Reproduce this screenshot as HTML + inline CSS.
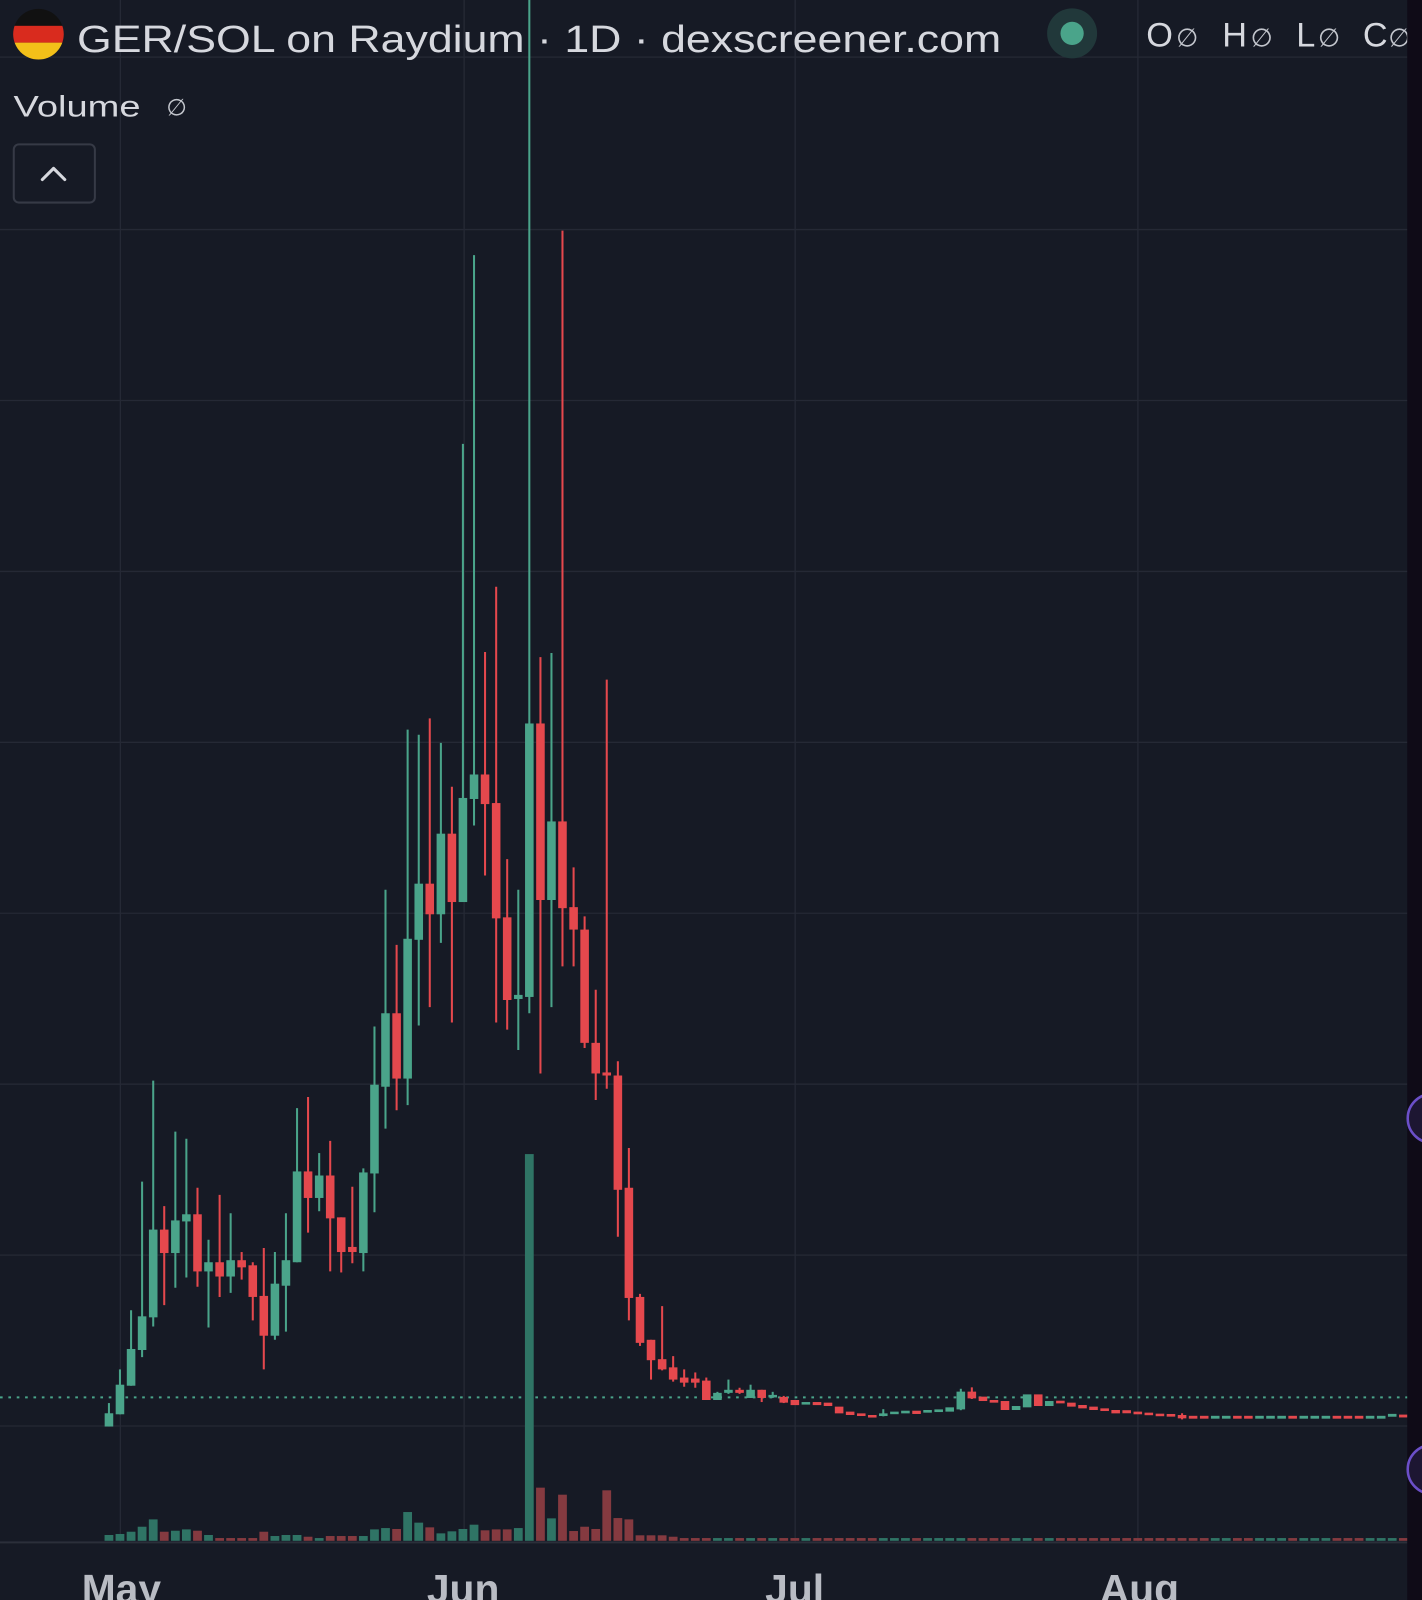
<!DOCTYPE html>
<html><head><meta charset="utf-8"><style>
html,body{margin:0;padding:0;background:#161a25;}
svg{display:block;}
.g line{stroke:#4aa48a;stroke-width:2}
.g rect{fill:#4aa48a}
.r line{stroke:#e5484d;stroke-width:2}
.r rect{fill:#e5484d}
.vg{fill:#2f7465}
.vr{fill:#853a40}
text{font-family:"Liberation Sans","DejaVu Sans",sans-serif;}
</style></head><body>
<svg width="1422" height="1600" viewBox="0 0 1394 1568" preserveAspectRatio="none" xmlns="http://www.w3.org/2000/svg">
<rect x="0" y="0" width="1394" height="1568" fill="#161a25"/>
<!-- grid -->
<g stroke="#252935" stroke-width="1.3">
<line x1="0" y1="56" x2="1380" y2="56"/>
<line x1="0" y1="225" x2="1380" y2="225"/>
<line x1="0" y1="392.5" x2="1380" y2="392.5"/>
<line x1="0" y1="560" x2="1380" y2="560"/>
<line x1="0" y1="727.5" x2="1380" y2="727.5"/>
<line x1="0" y1="895" x2="1380" y2="895"/>
<line x1="0" y1="1062.5" x2="1380" y2="1062.5"/>
<line x1="0" y1="1230" x2="1380" y2="1230"/>
<line x1="0" y1="1397.5" x2="1380" y2="1397.5"/>
<line x1="118" y1="0" x2="118" y2="1511"/>
<line x1="455" y1="0" x2="455" y2="1511"/>
<line x1="779.5" y1="0" x2="779.5" y2="1511"/>
<line x1="1115.5" y1="0" x2="1115.5" y2="1511"/>
</g>
<line x1="0" y1="1511.5" x2="1380" y2="1511.5" stroke="#2b2f3a" stroke-width="2"/>
<!-- dotted price line -->
<line x1="0" y1="1369.4" x2="1380" y2="1369.4" stroke="#4aa48a" stroke-width="2" stroke-dasharray="2.6 5.6"/>

<!-- volume -->
<rect class="vg" x="102.5" y="1504.3" width="8.6" height="5.7"/>
<rect class="vg" x="113.3" y="1503.3" width="8.6" height="6.7"/>
<rect class="vg" x="124.2" y="1501.1" width="8.6" height="8.9"/>
<rect class="vg" x="135" y="1496.2" width="8.6" height="13.8"/>
<rect class="vg" x="145.9" y="1489" width="8.6" height="21"/>
<rect class="vr" x="156.7" y="1501.1" width="8.6" height="8.9"/>
<rect class="vg" x="167.6" y="1500.1" width="8.6" height="9.9"/>
<rect class="vg" x="178.4" y="1498.8" width="8.6" height="11.2"/>
<rect class="vr" x="189.3" y="1500.1" width="8.6" height="9.9"/>
<rect class="vg" x="200.1" y="1504.3" width="8.6" height="5.7"/>
<rect class="vr" x="211" y="1507.3" width="8.6" height="2.7"/>
<rect class="vr" x="221.8" y="1507.3" width="8.6" height="2.7"/>
<rect class="vr" x="232.6" y="1507.3" width="8.6" height="2.7"/>
<rect class="vr" x="243.5" y="1507.3" width="8.6" height="2.7"/>
<rect class="vr" x="254.3" y="1501.1" width="8.6" height="8.9"/>
<rect class="vg" x="265.2" y="1505.3" width="8.6" height="4.7"/>
<rect class="vg" x="276" y="1504.3" width="8.6" height="5.7"/>
<rect class="vg" x="286.9" y="1504.3" width="8.6" height="5.7"/>
<rect class="vr" x="297.7" y="1506" width="8.6" height="4"/>
<rect class="vg" x="308.6" y="1507.3" width="8.6" height="2.7"/>
<rect class="vr" x="319.4" y="1505.3" width="8.6" height="4.7"/>
<rect class="vr" x="330.2" y="1505.3" width="8.6" height="4.7"/>
<rect class="vr" x="341.1" y="1505.3" width="8.6" height="4.7"/>
<rect class="vg" x="351.9" y="1505.3" width="8.6" height="4.7"/>
<rect class="vg" x="362.8" y="1498.8" width="8.6" height="11.2"/>
<rect class="vg" x="373.6" y="1497.5" width="8.6" height="12.5"/>
<rect class="vr" x="384.5" y="1498.4" width="8.6" height="11.6"/>
<rect class="vg" x="395.3" y="1481.8" width="8.6" height="28.2"/>
<rect class="vg" x="406.2" y="1492.2" width="8.6" height="17.8"/>
<rect class="vr" x="417" y="1496.8" width="8.6" height="13.2"/>
<rect class="vg" x="427.9" y="1502.7" width="8.6" height="7.3"/>
<rect class="vg" x="438.7" y="1500.7" width="8.6" height="9.3"/>
<rect class="vg" x="449.5" y="1498.4" width="8.6" height="11.6"/>
<rect class="vg" x="460.4" y="1494.2" width="8.6" height="15.8"/>
<rect class="vr" x="471.2" y="1499.7" width="8.6" height="10.3"/>
<rect class="vr" x="482.1" y="1498.8" width="8.6" height="11.2"/>
<rect class="vr" x="492.9" y="1498.8" width="8.6" height="11.2"/>
<rect class="vg" x="503.8" y="1497.5" width="8.6" height="12.5"/>
<rect class="vg" x="514.6" y="1131" width="8.6" height="379"/>
<rect class="vr" x="525.5" y="1457.9" width="8.6" height="52.1"/>
<rect class="vg" x="536.3" y="1488" width="8.6" height="22"/>
<rect class="vr" x="547.1" y="1464.8" width="8.6" height="45.2"/>
<rect class="vr" x="558" y="1500.4" width="8.6" height="9.6"/>
<rect class="vr" x="568.8" y="1496.2" width="8.6" height="13.8"/>
<rect class="vr" x="579.7" y="1498.4" width="8.6" height="11.6"/>
<rect class="vr" x="590.5" y="1460.5" width="8.6" height="49.5"/>
<rect class="vr" x="601.4" y="1487.7" width="8.6" height="22.3"/>
<rect class="vr" x="612.2" y="1489" width="8.6" height="21"/>
<rect class="vr" x="623.1" y="1504.6" width="8.6" height="5.4"/>
<rect class="vr" x="633.9" y="1504.6" width="8.6" height="5.4"/>
<rect class="vr" x="644.8" y="1504.6" width="8.6" height="5.4"/>
<rect class="vr" x="655.6" y="1506" width="8.6" height="4"/>
<g class="vr">
<rect x="666.4" y="1507.3" width="8.6" height="2.7"/><rect x="677.3" y="1507.3" width="8.6" height="2.7"/><rect x="688.1" y="1507.3" width="8.6" height="2.7"/>
<rect x="720.7" y="1507.3" width="8.6" height="2.7"/><rect x="742.4" y="1507.3" width="8.6" height="2.7"/><rect x="764" y="1507.3" width="8.6" height="2.7"/><rect x="774.9" y="1507.3" width="8.6" height="2.7"/>
<rect x="796.6" y="1507.3" width="8.6" height="2.7"/><rect x="807.4" y="1507.3" width="8.6" height="2.7"/><rect x="818.3" y="1507.3" width="8.6" height="2.7"/><rect x="829.1" y="1507.3" width="8.6" height="2.7"/><rect x="840" y="1507.3" width="8.6" height="2.7"/><rect x="850.8" y="1507.3" width="8.6" height="2.7"/>
<rect x="894.2" y="1507.3" width="8.6" height="2.7"/><rect x="948.4" y="1507.3" width="8.6" height="2.7"/><rect x="959.3" y="1507.3" width="8.6" height="2.7"/><rect x="970.1" y="1507.3" width="8.6" height="2.7"/><rect x="980.9" y="1507.3" width="8.6" height="2.7"/>
<rect x="1013.5" y="1507.3" width="8.6" height="2.7"/><rect x="1035.2" y="1507.3" width="8.6" height="2.7"/><rect x="1046" y="1507.3" width="8.6" height="2.7"/><rect x="1056.9" y="1507.3" width="8.6" height="2.7"/><rect x="1067.7" y="1507.3" width="8.6" height="2.7"/><rect x="1078.6" y="1507.3" width="8.6" height="2.7"/><rect x="1089.4" y="1507.3" width="8.6" height="2.7"/><rect x="1100.2" y="1507.3" width="8.6" height="2.7"/><rect x="1111.1" y="1507.3" width="8.6" height="2.7"/><rect x="1121.9" y="1507.3" width="8.6" height="2.7"/><rect x="1132.8" y="1507.3" width="8.6" height="2.7"/><rect x="1143.6" y="1507.3" width="8.6" height="2.7"/><rect x="1154.5" y="1507.3" width="8.6" height="2.7"/><rect x="1165.3" y="1507.3" width="8.6" height="2.7"/><rect x="1176.2" y="1507.3" width="8.6" height="2.7"/>
<rect x="1208.7" y="1507.3" width="8.6" height="2.7"/><rect x="1219.5" y="1507.3" width="8.6" height="2.7"/><rect x="1262.9" y="1507.3" width="8.6" height="2.7"/><rect x="1306.3" y="1507.3" width="8.6" height="2.7"/><rect x="1317.1" y="1507.3" width="8.6" height="2.7"/><rect x="1328" y="1507.3" width="8.6" height="2.7"/><rect x="1371.4" y="1507.3" width="8.6" height="2.7"/>
</g>
<g class="vg">
<rect x="699" y="1507.3" width="8.6" height="2.7"/><rect x="709.8" y="1507.3" width="8.6" height="2.7"/><rect x="731.5" y="1507.3" width="8.6" height="2.7"/><rect x="753.2" y="1507.3" width="8.6" height="2.7"/><rect x="785.7" y="1507.3" width="8.6" height="2.7"/>
<rect x="861.6" y="1507.3" width="8.6" height="2.7"/><rect x="872.5" y="1507.3" width="8.6" height="2.7"/><rect x="883.3" y="1507.3" width="8.6" height="2.7"/><rect x="905" y="1507.3" width="8.6" height="2.7"/><rect x="915.9" y="1507.3" width="8.6" height="2.7"/><rect x="926.7" y="1507.3" width="8.6" height="2.7"/><rect x="937.6" y="1507.3" width="8.6" height="2.7"/>
<rect x="991.8" y="1507.3" width="8.6" height="2.7"/><rect x="1002.6" y="1507.3" width="8.6" height="2.7"/><rect x="1024.3" y="1507.3" width="8.6" height="2.7"/>
<rect x="1187" y="1507.3" width="8.6" height="2.7"/><rect x="1197.8" y="1507.3" width="8.6" height="2.7"/><rect x="1230.4" y="1507.3" width="8.6" height="2.7"/><rect x="1241.2" y="1507.3" width="8.6" height="2.7"/><rect x="1252.1" y="1507.3" width="8.6" height="2.7"/><rect x="1273.8" y="1507.3" width="8.6" height="2.7"/><rect x="1284.6" y="1507.3" width="8.6" height="2.7"/><rect x="1295.5" y="1507.3" width="8.6" height="2.7"/><rect x="1338.8" y="1507.3" width="8.6" height="2.7"/><rect x="1349.7" y="1507.3" width="8.6" height="2.7"/><rect x="1360.5" y="1507.3" width="8.6" height="2.7"/>
</g>

<!-- candles -->
<g class="g"><line x1="106.8" y1="1375" x2="106.8" y2="1398"/><rect x="102.6" y="1385" width="8.4" height="13"/></g>
<g class="g"><line x1="117.6" y1="1342" x2="117.6" y2="1386"/><rect x="113.4" y="1357" width="8.4" height="29"/></g>
<g class="g"><line x1="128.5" y1="1284" x2="128.5" y2="1358"/><rect x="124.3" y="1322" width="8.4" height="36"/></g>
<g class="g"><line x1="139.3" y1="1158" x2="139.3" y2="1330"/><rect x="135.1" y="1290" width="8.4" height="33"/></g>
<g class="g"><line x1="150.2" y1="1059" x2="150.2" y2="1300"/><rect x="146" y="1205" width="8.4" height="86"/></g>
<g class="r"><line x1="161" y1="1182" x2="161" y2="1279"/><rect x="156.8" y="1205" width="8.4" height="23"/></g>
<g class="g"><line x1="171.9" y1="1109" x2="171.9" y2="1262"/><rect x="167.7" y="1196" width="8.4" height="32"/></g>
<g class="g"><line x1="182.7" y1="1116" x2="182.7" y2="1252"/><rect x="178.5" y="1190" width="8.4" height="7"/></g>
<g class="r"><line x1="193.6" y1="1164" x2="193.6" y2="1261"/><rect x="189.4" y="1190" width="8.4" height="56"/></g>
<g class="g"><line x1="204.4" y1="1215" x2="204.4" y2="1301"/><rect x="200.2" y="1237" width="8.4" height="9"/></g>
<g class="r"><line x1="215.3" y1="1171" x2="215.3" y2="1271"/><rect x="211.1" y="1237" width="8.4" height="14"/></g>
<g class="g"><line x1="226.1" y1="1189" x2="226.1" y2="1267"/><rect x="221.9" y="1235" width="8.4" height="16"/></g>
<g class="r"><line x1="236.9" y1="1227" x2="236.9" y2="1254"/><rect x="232.7" y="1235" width="8.4" height="7"/></g>
<g class="r"><line x1="247.8" y1="1237" x2="247.8" y2="1294"/><rect x="243.6" y="1240" width="8.4" height="31"/></g>
<g class="r"><line x1="258.6" y1="1223" x2="258.6" y2="1342"/><rect x="254.4" y="1270" width="8.4" height="39"/></g>
<g class="g"><line x1="269.5" y1="1227" x2="269.5" y2="1313"/><rect x="265.3" y="1258" width="8.4" height="51"/></g>
<g class="g"><line x1="280.3" y1="1189" x2="280.3" y2="1305"/><rect x="276.1" y="1235" width="8.4" height="25"/></g>
<g class="g"><line x1="291.2" y1="1086" x2="291.2" y2="1237"/><rect x="287" y="1148" width="8.4" height="89"/></g>
<g class="r"><line x1="302" y1="1075" x2="302" y2="1208"/><rect x="297.8" y="1148" width="8.4" height="26"/></g>
<g class="g"><line x1="312.9" y1="1130" x2="312.9" y2="1187"/><rect x="308.7" y="1152" width="8.4" height="22"/></g>
<g class="r"><line x1="323.7" y1="1118" x2="323.7" y2="1246"/><rect x="319.5" y="1152" width="8.4" height="42"/></g>
<g class="r"><line x1="334.5" y1="1193" x2="334.5" y2="1247"/><rect x="330.3" y="1193" width="8.4" height="34"/></g>
<g class="r"><line x1="345.4" y1="1163" x2="345.4" y2="1238"/><rect x="341.2" y="1222" width="8.4" height="5"/></g>
<g class="g"><line x1="356.2" y1="1145" x2="356.2" y2="1246"/><rect x="352" y="1149" width="8.4" height="79"/></g>
<g class="g"><line x1="367.1" y1="1006" x2="367.1" y2="1188"/><rect x="362.9" y="1063" width="8.4" height="87"/></g>
<g class="g"><line x1="377.9" y1="872" x2="377.9" y2="1106"/><rect x="373.7" y="993" width="8.4" height="72"/></g>
<g class="r"><line x1="388.8" y1="926" x2="388.8" y2="1088"/><rect x="384.6" y="993" width="8.4" height="64"/></g>
<g class="g"><line x1="399.6" y1="715" x2="399.6" y2="1083"/><rect x="395.4" y="920" width="8.4" height="137"/></g>
<g class="g"><line x1="410.5" y1="720" x2="410.5" y2="1005"/><rect x="406.3" y="866" width="8.4" height="55"/></g>
<g class="r"><line x1="421.3" y1="704" x2="421.3" y2="987"/><rect x="417.1" y="866" width="8.4" height="30"/></g>
<g class="g"><line x1="432.2" y1="728" x2="432.2" y2="924"/><rect x="428" y="817" width="8.4" height="79"/></g>
<g class="r"><line x1="443" y1="771" x2="443" y2="1002"/><rect x="438.8" y="817" width="8.4" height="67"/></g>
<g class="g"><line x1="453.8" y1="435" x2="453.8" y2="884"/><rect x="449.6" y="782" width="8.4" height="102"/></g>
<g class="g"><line x1="464.7" y1="250" x2="464.7" y2="809"/><rect x="460.5" y="759" width="8.4" height="24"/></g>
<g class="r"><line x1="475.5" y1="639" x2="475.5" y2="858"/><rect x="471.3" y="759" width="8.4" height="29"/></g>
<g class="r"><line x1="486.4" y1="575" x2="486.4" y2="1002"/><rect x="482.2" y="787" width="8.4" height="113"/></g>
<g class="r"><line x1="497.2" y1="842" x2="497.2" y2="1009"/><rect x="493" y="899" width="8.4" height="81"/></g>
<g class="g"><line x1="508.1" y1="872" x2="508.1" y2="1029"/><rect x="503.9" y="975" width="8.4" height="4"/></g>
<g class="g"><line x1="518.9" y1="0" x2="518.9" y2="993"/><rect x="514.7" y="709" width="8.4" height="268"/></g>
<g class="r"><line x1="529.8" y1="644" x2="529.8" y2="1052"/><rect x="525.6" y="709" width="8.4" height="173"/></g>
<g class="g"><line x1="540.6" y1="640" x2="540.6" y2="987"/><rect x="536.4" y="805" width="8.4" height="77"/></g>
<g class="r"><line x1="551.4" y1="226" x2="551.4" y2="947"/><rect x="547.2" y="805" width="8.4" height="85"/></g>
<g class="r"><line x1="562.3" y1="850" x2="562.3" y2="947"/><rect x="558.1" y="889" width="8.4" height="22"/></g>
<g class="r"><line x1="573.1" y1="898" x2="573.1" y2="1027"/><rect x="568.9" y="911" width="8.4" height="111"/></g>
<g class="r"><line x1="584" y1="970" x2="584" y2="1078"/><rect x="579.8" y="1022" width="8.4" height="30"/></g>
<g class="r"><line x1="594.8" y1="666" x2="594.8" y2="1067"/><rect x="590.6" y="1051" width="8.4" height="3"/></g>
<g class="r"><line x1="605.7" y1="1040" x2="605.7" y2="1212"/><rect x="601.5" y="1054" width="8.4" height="112"/></g>
<g class="r"><line x1="616.5" y1="1125" x2="616.5" y2="1294"/><rect x="612.3" y="1164" width="8.4" height="108"/></g>
<g class="r"><line x1="627.4" y1="1268" x2="627.4" y2="1319"/><rect x="623.2" y="1271" width="8.4" height="45"/></g>
<g class="r"><line x1="638.2" y1="1313" x2="638.2" y2="1352"/><rect x="634" y="1313" width="8.4" height="20"/></g>
<g class="r"><line x1="649.1" y1="1280" x2="649.1" y2="1343"/><rect x="644.9" y="1332" width="8.4" height="10"/></g>
<g class="r"><line x1="659.9" y1="1329" x2="659.9" y2="1354"/><rect x="655.7" y="1340" width="8.4" height="12"/></g>
<g class="r"><line x1="670.7" y1="1342" x2="670.7" y2="1359"/><rect x="666.5" y="1350" width="8.4" height="5"/></g>
<g class="r"><line x1="681.6" y1="1345" x2="681.6" y2="1360"/><rect x="677.4" y="1351" width="8.4" height="4"/></g>
<g class="r"><line x1="692.4" y1="1350" x2="692.4" y2="1372"/><rect x="688.2" y="1353" width="8.4" height="19"/></g>
<g class="g"><line x1="703.3" y1="1364" x2="703.3" y2="1372"/><rect x="699.1" y="1365" width="8.4" height="7"/></g>
<g class="g"><line x1="714.1" y1="1352" x2="714.1" y2="1366"/><rect x="709.9" y="1362" width="8.4" height="3"/></g>
<g class="r"><line x1="725" y1="1360" x2="725" y2="1366"/><rect x="720.8" y="1362" width="8.4" height="3"/></g>
<g class="g"><line x1="735.8" y1="1357" x2="735.8" y2="1370"/><rect x="731.6" y="1362" width="8.4" height="8"/></g>
<g class="r"><line x1="746.7" y1="1362" x2="746.7" y2="1374"/><rect x="742.5" y="1362" width="8.4" height="8"/></g>
<g class="g"><line x1="757.5" y1="1364" x2="757.5" y2="1370"/><rect x="753.3" y="1367" width="8.4" height="2.5"/></g>
<g class="r"><line x1="768.3" y1="1368" x2="768.3" y2="1375"/><rect x="764.1" y="1369" width="8.4" height="5.6"/></g>
<g class="r"><rect x="775" y="1372" width="8.4" height="5"/></g>
<g class="g"><rect x="785.8" y="1374" width="8.4" height="2.5"/></g>
<g class="r"><rect x="796.7" y="1374" width="8.4" height="3"/></g>
<g class="r"><rect x="807.5" y="1374.6" width="8.4" height="3.3"/></g>
<g class="r"><rect x="818.4" y="1378.5" width="8.4" height="6.6"/></g>
<g class="r"><rect x="829.2" y="1383.4" width="8.4" height="3.3"/></g>
<g class="r"><rect x="840.1" y="1385.1" width="8.4" height="2.6"/></g>
<g class="r"><rect x="850.9" y="1386.7" width="8.4" height="2.5"/></g>
<g class="g"><line x1="865.9" y1="1381" x2="865.9" y2="1388"/><rect x="861.7" y="1385.1" width="8.4" height="2.6"/></g>
<g class="g"><rect x="872.6" y="1383.4" width="8.4" height="2.5"/></g>
<g class="g"><rect x="883.4" y="1382.5" width="8.4" height="2.6"/></g>
<g class="r"><rect x="894.3" y="1382.5" width="8.4" height="3.2"/></g>
<g class="g"><rect x="905.1" y="1381.8" width="8.4" height="2.6"/></g>
<g class="g"><rect x="916" y="1381.2" width="8.4" height="2.6"/></g>
<g class="g"><rect x="926.8" y="1379.2" width="8.4" height="4.2"/></g>
<g class="g"><line x1="941.9" y1="1361" x2="941.9" y2="1382"/><rect x="937.7" y="1363.8" width="8.4" height="17.4"/></g>
<g class="r"><line x1="952.7" y1="1359.6" x2="952.7" y2="1371"/><rect x="948.5" y="1363.8" width="8.4" height="6.6"/></g>
<g class="r"><rect x="959.4" y="1368.7" width="8.4" height="4.3"/></g>
<g class="r"><rect x="970.2" y="1372" width="8.4" height="2.6"/></g>
<g class="r"><rect x="981" y="1373" width="8.4" height="8.8"/></g>
<g class="g"><rect x="991.9" y="1377.9" width="8.4" height="3.9"/></g>
<g class="g"><rect x="1002.7" y="1366.5" width="8.4" height="12.7"/></g>
<g class="r"><rect x="1013.6" y="1366.5" width="8.4" height="11.4"/></g>
<g class="g"><rect x="1024.4" y="1373" width="8.4" height="4.9"/></g>
<g class="r"><rect x="1035.3" y="1372.7" width="8.4" height="2.6"/></g>
<g class="r"><rect x="1046.1" y="1374.6" width="8.4" height="3.9"/></g>
<g class="r"><rect x="1057" y="1376.9" width="8.4" height="3.3"/></g>
<g class="r"><rect x="1067.8" y="1378.5" width="8.4" height="3.3"/></g>
<g class="r"><rect x="1078.7" y="1380.2" width="8.4" height="2.6"/></g>
<g class="r"><rect x="1089.5" y="1381.8" width="8.4" height="3.3"/></g>
<g class="r"><rect x="1100.3" y="1382" width="8.4" height="3"/></g>
<g class="r"><rect x="1111.2" y="1383.4" width="8.4" height="2.6"/></g>
<g class="r"><rect x="1122" y="1384.4" width="8.4" height="2.5"/></g>
<g class="r"><rect x="1132.9" y="1385.4" width="8.4" height="2.5"/></g>
<g class="r"><rect x="1143.7" y="1385.7" width="8.4" height="2.6"/></g>
<g class="r"><line x1="1158.8" y1="1385" x2="1158.8" y2="1391"/><rect x="1154.6" y="1386.7" width="8.4" height="3.3"/></g>
<g class="r"><rect x="1165.4" y="1387.5" width="8.4" height="2.8"/><rect x="1176.3" y="1387.5" width="8.4" height="2.8"/><rect x="1208.8" y="1387.5" width="8.4" height="2.8"/><rect x="1219.6" y="1387.5" width="8.4" height="2.8"/><rect x="1263" y="1387.5" width="8.4" height="2.8"/><rect x="1306.4" y="1387.5" width="8.4" height="2.8"/><rect x="1317.2" y="1387.5" width="8.4" height="2.8"/><rect x="1328.1" y="1387.5" width="8.4" height="2.8"/><rect x="1371.5" y="1386.3" width="8.4" height="2.8"/></g>
<g class="g"><rect x="1187.1" y="1387.5" width="8.4" height="2.8"/><rect x="1197.9" y="1387.5" width="8.4" height="2.8"/><rect x="1230.5" y="1387.5" width="8.4" height="2.8"/><rect x="1241.3" y="1387.5" width="8.4" height="2.8"/><rect x="1252.2" y="1387.5" width="8.4" height="2.8"/><rect x="1273.9" y="1387.5" width="8.4" height="2.8"/><rect x="1284.7" y="1387.5" width="8.4" height="2.8"/><rect x="1295.6" y="1387.5" width="8.4" height="2.8"/><rect x="1338.9" y="1387.5" width="8.4" height="2.8"/><rect x="1349.8" y="1387.5" width="8.4" height="2.8"/><rect x="1360.6" y="1385.6" width="8.4" height="2.8"/></g>

<!-- header -->
<defs><clipPath id="fc"><circle cx="37.7" cy="33.5" r="24.8"/></clipPath></defs>
<g clip-path="url(#fc)">
<rect x="10" y="8" width="56" height="17.5" fill="#111111"/>
<rect x="10" y="25.3" width="56" height="16.6" fill="#d92b1e"/>
<rect x="10" y="41.8" width="56" height="18" fill="#f3c019"/>
</g>
<text x="75.5" y="50.8" font-size="37" fill="#d6d8de" textLength="906" lengthAdjust="spacingAndGlyphs">GER/SOL on Raydium · 1D · dexscreener.com</text>
<circle cx="1051" cy="32.7" r="24.5" fill="#21383a"/>
<circle cx="1051" cy="32.7" r="11.4" fill="#4aa48a"/>
<g fill="#d6d8de" font-size="33.6">
<text x="1123.7" y="45.7">O</text>
<text x="1198.2" y="45.7">H</text>
<text x="1270.7" y="45.7">L</text>
<text x="1336" y="45.7">C</text>
</g>
<g fill="#c3c6cd" font-size="25">
<text x="1153" y="45.5" style="font-family:'DejaVu Sans',sans-serif">∅</text>
<text x="1226" y="45.5" style="font-family:'DejaVu Sans',sans-serif">∅</text>
<text x="1292" y="45.5" style="font-family:'DejaVu Sans',sans-serif">∅</text>
<text x="1361" y="45.5" style="font-family:'DejaVu Sans',sans-serif">∅</text>
</g>
<text x="13.3" y="114.4" font-size="29" fill="#d6d8de" textLength="124.5" lengthAdjust="spacingAndGlyphs">Volume</text>
<text x="163" y="113" font-size="23" fill="#c3c6cd" style="font-family:'DejaVu Sans',sans-serif">∅</text>
<rect x="13.5" y="141.5" width="79.5" height="57" rx="5" ry="5" fill="#161a25" stroke="#363a46" stroke-width="2"/>
<polyline points="41.5,176 52.5,165 63.5,176" fill="none" stroke="#d6d8de" stroke-width="3" stroke-linecap="round" stroke-linejoin="round"/>

<!-- x axis labels -->
<g fill="#b9bcc4" font-size="40" font-weight="bold" text-anchor="middle">
<text x="119" y="1571">May</text>
<text x="454" y="1571">Jun</text>
<text x="779" y="1571">Jul</text>
<text x="1117" y="1571">Aug</text>
</g>

<!-- right strip -->
<rect x="1379.5" y="0" width="14.5" height="1568" fill="#0f0b17"/>
<circle cx="1404" cy="1096" r="24" fill="#1d1632" stroke="#6b4fc8" stroke-width="2.5"/>
<circle cx="1404" cy="1440" r="24" fill="#1d1632" stroke="#6b4fc8" stroke-width="2.5"/>
</svg>
</body></html>
